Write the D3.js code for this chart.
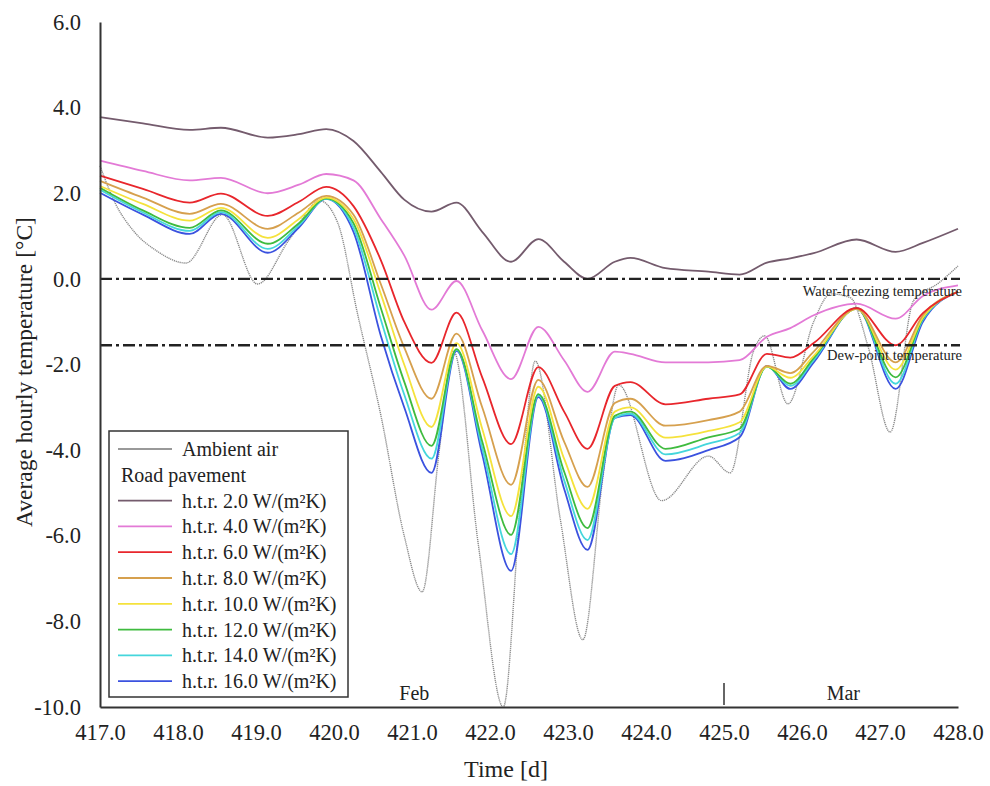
<!DOCTYPE html>
<html>
<head>
<meta charset="utf-8">
<script src="https://cdn.jsdelivr.net/npm/d3@7"></script>
<style>
  body { margin: 0; background: #fff; }
  svg text { font-family: "Liberation Serif", Tinos, "Times New Roman", Times, "DejaVu Serif", serif; fill: #222; }
</style>
</head>
<body>
<script>
// time axis (days) shared by the road pavement curves
const roadDays = [417.0, 417.55, 418.15, 418.55, 419.15, 419.55, 419.9, 420.25, 420.6, 420.9,
                  421.25, 421.57, 421.9, 422.27, 422.62, 422.95, 423.25, 423.6, 423.8, 424.25,
                  424.8, 425.2, 425.55, 425.85, 426.15, 426.7, 427.2, 427.55, 428.0];

const htr2  = [3.78, 3.63, 3.48, 3.53, 3.3, 3.38, 3.5, 3.22, 2.5, 1.85, 1.57, 1.78, 1.1, 0.4, 0.93, 0.4,
               0.0, 0.4, 0.49, 0.25, 0.17, 0.1, 0.38, 0.48, 0.6, 0.92, 0.63, 0.84, 1.17];
const htr4  = [2.76, 2.52, 2.3, 2.36, 2.0, 2.2, 2.45, 2.3, 1.4, 0.55, -0.72, -0.05, -1.2, -2.34, -1.12, -1.9,
               -2.64, -1.7, -1.75, -1.95, -1.95, -1.9, -1.35, -1.15, -0.85, -0.58, -0.93, -0.4, -0.15];
const htr6  = [2.41, 2.1, 1.78, 1.99, 1.47, 1.8, 2.15, 1.7, 0.44, -1.0, -1.96, -0.79, -2.3, -3.86, -2.06, -3.1,
               -3.97, -2.5, -2.41, -2.93, -2.8, -2.7, -1.75, -1.84, -1.5, -0.68, -1.55, -0.8, -0.3];
const htr8  = [2.29, 1.9, 1.52, 1.75, 1.17, 1.55, 1.94, 1.5, -0.12, -1.6, -2.8, -1.28, -3.0, -4.81, -2.36, -3.8,
               -4.86, -2.9, -2.8, -3.43, -3.3, -3.1, -2.03, -2.2, -1.7, -0.7, -1.95, -0.85, -0.3];
const htr10 = [2.17, 1.75, 1.36, 1.66, 0.96, 1.4, 1.9, 1.4, -0.35, -2.0, -3.46, -1.5, -3.5, -5.54, -2.52, -4.2,
               -5.37, -3.1, -3.0, -3.71, -3.55, -3.35, -2.05, -2.31, -1.8, -0.7, -2.12, -0.9, -0.3];
const htr12 = [2.13, 1.6, 1.19, 1.6, 0.82, 1.3, 1.88, 1.3, -0.68, -2.4, -3.9, -1.64, -3.8, -5.98, -2.69, -4.5,
               -5.82, -3.2, -3.1, -3.97, -3.7, -3.5, -2.05, -2.45, -1.85, -0.7, -2.3, -0.92, -0.3];
const htr14 = [2.08, 1.55, 1.12, 1.56, 0.7, 1.25, 1.87, 1.2, -0.95, -2.7, -4.2, -1.66, -3.95, -6.43, -2.72, -4.7,
               -6.1, -3.25, -3.15, -4.1, -3.85, -3.6, -2.05, -2.5, -1.9, -0.68, -2.45, -0.95, -0.3];
const htr16 = [2.01, 1.5, 1.05, 1.52, 0.61, 1.2, 1.87, 1.1, -1.33, -3.0, -4.53, -1.68, -4.1, -6.82, -2.76, -4.9,
               -6.33, -3.25, -3.18, -4.25, -4.0, -3.7, -2.03, -2.57, -1.95, -0.68, -2.57, -1.0, -0.3];

// ambient air has its own sample days
const ambientDays  = [417.0, 417.2, 417.43, 417.73, 418.1, 418.57, 419.02, 419.42, 419.82, 420.05, 420.3,
                      420.6, 420.9, 421.13, 421.35, 421.53, 421.85, 422.17, 422.4, 422.58, 422.9, 423.19,
                      423.45, 423.65, 424.2, 424.8, 425.08, 425.38, 425.52, 425.82, 426.15, 426.37, 426.62,
                      426.85, 427.13, 427.43, 427.75, 428.0];
const ambientTemps = [2.64, 1.75, 1.12, 0.65, 0.37, 1.5, -0.12, 0.9, 1.82, 1.3, -0.8,
                      -3.18, -6.0, -7.31, -4.0, -1.68, -6.2, -10.0, -5.0, -1.92, -5.6, -8.43,
                      -4.6, -2.48, -5.18, -4.14, -4.53, -1.68, -1.33, -2.92, -1.0, -0.35, -0.44,
                      -1.6, -3.58, -0.51, -0.1, 0.3];

const roadNames = ['h.t.r. 2.0 W/(m\u00b2K)', 'h.t.r. 4.0 W/(m\u00b2K)', 'h.t.r. 6.0 W/(m\u00b2K)',
                   'h.t.r. 8.0 W/(m\u00b2K)', 'h.t.r. 10.0 W/(m\u00b2K)', 'h.t.r. 12.0 W/(m\u00b2K)',
                   'h.t.r. 14.0 W/(m\u00b2K)', 'h.t.r. 16.0 W/(m\u00b2K)'];
const roadSeries = [htr2, htr4, htr6, htr8, htr10, htr12, htr14, htr16];
const roadColors = ['#745b6d', '#e37ad6', '#e8262c', '#d6a04e', '#f5e23c', '#3fbb3f', '#45d6dc', '#3b52df'];

const xTicks = [417, 418, 419, 420, 421, 422, 423, 424, 425, 426, 427, 428];
const yTicks = [6, 4, 2, 0, -2, -4, -6, -8, -10];

const refValues = [0.0, -1.55];
const refLabels = ['Water-freezing temperature', 'Dew-point temperature'];

const monthLabels = ['Feb', 'Mar'];
const monthCenters = [421.03, 426.53];
const monthBoundary = 425.0;

const serif = '"Liberation Serif", Tinos, "Times New Roman", Times, "DejaVu Serif", serif';

function DrawChart() {
  const margin = { top: 22, left: 100 },
        width = 858,
        height = 685;

  const xScale = d3.scaleLinear().domain([417, 428]).range([0, width]);
  const yScale = d3.scaleLinear().domain([-10, 6]).range([height, 0]);

  const svg = d3.select('body')
                .append('svg')
                .attr('width', 990)
                .attr('height', 786)
                .attr('font-family', serif)
                .append('g')
                .attr('transform', `translate(${margin.left}, ${margin.top})`);

  const line = d3.line()
                 .x(d => xScale(d[0]))
                 .y(d => yScale(d[1]))
                 .curve(d3.curveMonotoneX);

  // ambient air
  svg.append('path')
     .datum(ambientDays.map((d, i) => [d, ambientTemps[i]]))
     .attr('fill', 'none')
     .attr('stroke', '#8a8a8a')
     .attr('stroke-width', 1.4)
     .attr('stroke-dasharray', '1.2,0.8')
     .attr('d', line);

  // road pavement curves, 16 drawn first so 2.0 sits on top
  roadSeries.slice().reverse().forEach((vals, j) => {
    const i = roadSeries.length - 1 - j;
    svg.append('path')
       .datum(roadDays.map((d, k) => [d, vals[k]]))
       .attr('fill', 'none')
       .attr('stroke', roadColors[i])
       .attr('stroke-width', 1.8)
       .attr('d', line);
  });

  // reference lines (dash-dot), on top of the curves
  refValues.forEach((v, i) => {
    svg.append('line')
       .attr('x1', 0).attr('x2', xScale(428) + 2)
       .attr('y1', yScale(v)).attr('y2', yScale(v))
       .attr('stroke', '#222')
       .attr('stroke-width', 2.4)
       .attr('stroke-dasharray', '12,4,3,4');
    svg.append('text')
       .attr('x', xScale(428) + 4)
       .attr('y', yScale(v) + (i === 0 ? 17 : 15))
       .attr('text-anchor', 'end')
       .style('font-family', serif)
       .style('font-size', '14.5px')
       .text(refLabels[i]);
  });

  // axes
  const xAxis = d3.axisBottom(xScale)
                  .tickValues(xTicks)
                  .tickSize(0)
                  .tickPadding(17)
                  .tickFormat(d => d.toFixed(1));
  const yAxis = d3.axisLeft(yScale)
                  .tickValues(yTicks)
                  .tickSize(0)
                  .tickPadding(19)
                  .tickFormat(d => d.toFixed(1));

  const gx = svg.append('g')
                .attr('transform', `translate(0, ${height})`)
                .call(xAxis);
  const gy = svg.append('g').call(yAxis);

  [gx, gy].forEach(g => {
    g.attr('font-family', serif).attr('font-size', null);
    g.select('.domain').attr('stroke', '#333').attr('stroke-width', 2);
    g.selectAll('text')
     .style('font-family', serif)
     .style('font-size', '22.5px')
     .attr('fill', '#222');
  });

  // month markers
  svg.append('line')
     .attr('x1', xScale(monthBoundary)).attr('x2', xScale(monthBoundary))
     .attr('y1', height - 24).attr('y2', height - 2)
     .attr('stroke', '#333').attr('stroke-width', 1.5);
  monthLabels.forEach((m, i) => {
    svg.append('text')
       .attr('x', xScale(monthCenters[i]))
       .attr('y', height - 7)
       .attr('text-anchor', 'middle')
       .style('font-family', serif)
       .style('font-size', '20px')
       .text(m);
  });

  // axis titles
  svg.append('text')
     .attr('x', 406)
     .attr('y', height + 70)
     .attr('text-anchor', 'middle')
     .style('font-family', serif)
     .style('font-size', '24px')
     .text('Time [d]');

  svg.append('text')
     .attr('transform', `translate(${32 - margin.left}, ${372 - margin.top}) rotate(-90)`)
     .attr('text-anchor', 'middle')
     .style('font-family', serif)
     .style('font-size', '23.5px')
     .text('Average hourly temperature [\u00b0C]');

  // legend
  const legend = svg.append('g').attr('transform', 'translate(9, 409)');
  legend.append('rect')
        .attr('width', 239).attr('height', 266)
        .attr('fill', '#fff')
        .attr('stroke', '#333')
        .attr('stroke-width', 1.5);

  const rowY = i => 18 + i * 25.8;
  const entries = [{ name: 'Ambient air', color: '#999' }, { name: 'Road pavement', color: null }]
                  .concat(roadNames.map((n, i) => ({ name: n, color: roadColors[i] })));

  entries.forEach((e, i) => {
    if (e.color) {
      legend.append('line')
            .attr('x1', 9).attr('x2', 63)
            .attr('y1', rowY(i)).attr('y2', rowY(i))
            .attr('stroke', e.color).attr('stroke-width', 1.8);
    }
    legend.append('text')
          .attr('x', e.color ? 73 : 12)
          .attr('y', rowY(i) + 7)
          .style('font-family', serif)
          .style('font-size', '20px')
          .text(e.name);
  });
}

DrawChart();
</script>
</body>
</html>
